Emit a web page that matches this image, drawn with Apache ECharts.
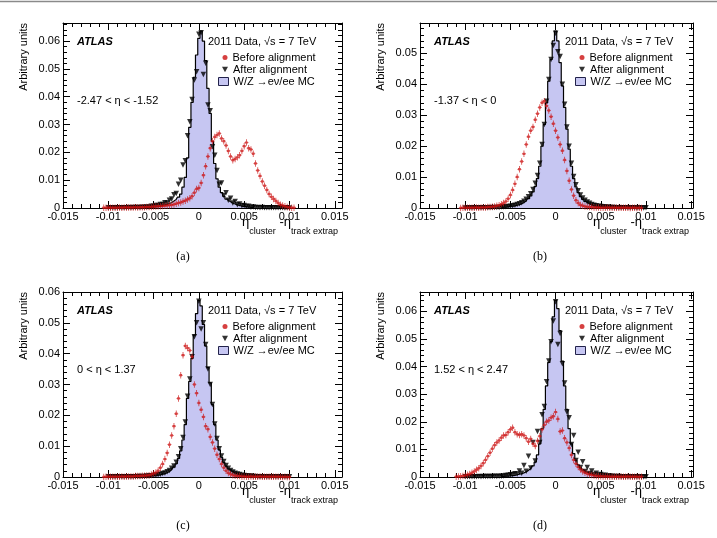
<!DOCTYPE html>
<html>
<head>
<meta charset="utf-8">
<script src="https://cdn.jsdelivr.net/npm/echarts@6/dist/echarts.min.js"></script>
<style>
  html, body { margin: 0; padding: 0; background: #fff; }
  #chart { width: 717px; height: 538px; }
</style>
</head>
<body>
<div id="chart"></div>
<script>
// all histograms share one bin width (eta units)
const binW = 0.00025;
const mcStart = -0.006;     // first bin centre of the MC arrays
const afterStart = -0.01;   // first bin centre of the "after" arrays
const beforeStarts = [-0.0105, -0.0105, -0.0105, -0.011];

const captions = ['(a)', '(b)', '(c)', '(d)'];
const etaRanges = ['-2.47 < η < -1.52', '-1.37 < η < 0', '0 < η < 1.37', '1.52 < η < 2.47'];
const nameBefore = 'Before alignment';
const nameAfter = 'After alignment';
const nameMc = 'W/Z →eν/ee MC';

// (a) -2.47 < eta < -1.52
const aMc = [0.0002,0.0002,0.0003,0.0003,0.0004,0.0005,0.0006,0.0007,0.0009,0.0011,
  0.0013,0.0016,0.0020,0.0025,0.0031,0.0039,0.0050,0.0075,0.0110,0.0180,
  0.0290,0.0380,0.0470,0.0550,0.0610,0.0636,0.0600,0.0530,0.0430,0.0340,
  0.0240,0.0160,0.0105,0.0075,0.0055,0.0042,0.0032,0.0025,0.0020,0.0016,
  0.0013,0.0010,0.0008,0.0006,0.0005,0.0004,0.0003,0.0002,0.0002];
const aAfter = [0.0001,0.0001,0.0001,0.0001,0.0001,0.0001,0.0001,0.0001,0.0001,0.0002,0.0001,0.0002,0.0002,0.0002,0.0002,0.0003,
  0.0003,0.0004,0.0004,0.0006,0.0006,0.0009,0.0009,0.0013,0.0013,0.0019,
  0.0018,0.0028,0.0032,0.0048,0.0052,0.0085,0.0100,0.0155,0.0170,0.0260,
  0.0310,0.0390,0.0460,0.0490,0.0625,0.0630,0.0480,0.0520,0.0370,0.0350,
  0.0220,0.0190,0.0135,0.0085,0.0090,0.0045,0.0055,0.0028,0.0035,0.0018,
  0.0023,0.0012,0.0014,0.0008,0.0009,0.0005,0.0006,0.0003,0.0004,
  0.0002,0.0002,0.0001,0.0002,0.0001,0.0001,0.0001,0.0001,0.0001,0.0001,0.0001,0.0001,0.0001,0.0000,0.0001,0.0000];
const aBefore = [0.0001,0.0001,0.0001,0.0001,0.0001,0.0001,0.0001,0.0002,0.0001,0.0002,
  0.0002,0.0002,0.0002,0.0002,0.0003,0.0002,0.0003,0.0003,0.0003,0.0004,
  0.0004,0.0004,0.0005,0.0005,0.0006,0.0006,0.0007,0.0008,0.0009,0.0010,
  0.0011,0.0013,0.0015,0.0018,0.0020,0.0023,0.0026,0.0031,0.0035,0.0042,
  0.0055,0.0068,0.0072,0.0090,0.0118,0.0150,0.0185,0.0215,0.0240,0.0255,
  0.0262,0.0268,0.0250,0.0240,0.0225,0.0205,0.0185,0.0172,0.0176,0.0182,
  0.0190,0.0205,0.0222,0.0235,0.0215,0.0210,0.0195,0.0160,0.0135,0.0115,
  0.0095,0.0080,0.0065,0.0050,0.0040,0.0032,0.0025,0.0018,0.0012,0.0009,
  0.0006,0.0004,0.0002,0.0001,0.0001];

// (b) -1.37 < eta < 0
const bMc = [0.0002,0.0003,0.0003,0.0004,0.0005,0.0006,0.0007,0.0009,0.0011,0.0014,
  0.0018,0.0023,0.0030,0.0039,0.0052,0.0070,0.0095,0.0135,0.0200,0.0270,
  0.0340,0.0410,0.0480,0.0540,0.0572,0.0540,0.0470,0.0395,0.0325,0.0255,
  0.0190,0.0135,0.0095,0.0068,0.0050,0.0037,0.0028,0.0021,0.0016,0.0012,
  0.0009,0.0007,0.0006,0.0005,0.0004,0.0003,0.0003,0.0002,0.0002];
const bAfter = [0.0000,0.0001,0.0000,0.0001,0.0001,0.0001,0.0001,0.0001,0.0001,0.0001,0.0001,0.0002,0.0001,0.0002,0.0002,0.0002,
  0.0003,0.0003,0.0004,0.0005,0.0006,0.0007,0.0009,0.0011,0.0014,0.0017,
  0.0022,0.0028,0.0036,0.0046,0.0060,0.0080,0.0105,0.0145,0.0205,0.0270,
  0.0345,0.0415,0.0480,0.0525,0.0565,0.0505,0.0490,0.0400,0.0335,0.0262,
  0.0200,0.0145,0.0102,0.0075,0.0056,0.0042,0.0032,0.0025,0.0019,0.0015,
  0.0011,0.0009,0.0007,0.0006,0.0005,0.0004,0.0003,0.0003,0.0002,
  0.0002,0.0002,0.0001,0.0001,0.0001,0.0001,0.0001,0.0001,0.0001,0.0001,0.0001,0.0000,0.0001,0.0001,0.0000,0.0001];
const bBefore = [0.0000,0.0001,0.0001,0.0001,0.0001,0.0001,0.0001,0.0002,0.0001,0.0002,
  0.0002,0.0002,0.0003,0.0003,0.0004,0.0005,0.0007,0.0009,0.0012,0.0016,
  0.0021,0.0030,0.0042,0.0058,0.0078,0.0100,0.0125,0.0150,0.0175,0.0205,
  0.0230,0.0250,0.0262,0.0285,0.0305,0.0325,0.0340,0.0345,0.0330,0.0315,
  0.0295,0.0272,0.0250,0.0228,0.0205,0.0185,0.0155,0.0120,0.0088,0.0060,
  0.0040,0.0025,0.0016,0.0010,0.0007,0.0005,0.0004,0.0003,0.0003,0.0002,
  0.0002,0.0002,0.0001,0.0001,0.0001,0.0002,0.0001,0.0001,0.0001,0.0001,
  0.0001,0.0001,0.0001,0.0001,0.0001,0.0000,0.0001,0.0001,0.0000,0.0001,
  0.0000];

// (c) 0 < eta < 1.37
const cMc = [0.0002,0.0002,0.0003,0.0003,0.0004,0.0005,0.0006,0.0007,0.0009,0.0011,
  0.0014,0.0018,0.0024,0.0032,0.0043,0.0060,0.0085,0.0120,0.0170,0.0255,
  0.0310,0.0385,0.0460,0.0530,0.0573,0.0555,0.0495,0.0425,0.0355,0.0305,
  0.0235,0.0170,0.0120,0.0088,0.0064,0.0047,0.0035,0.0026,0.0020,0.0015,
  0.0012,0.0009,0.0007,0.0006,0.0005,0.0004,0.0003,0.0002,0.0002];
const cAfter = [0.0001,0.0001,0.0001,0.0001,0.0001,0.0001,0.0001,0.0001,0.0001,0.0001,0.0001,0.0001,0.0001,0.0002,0.0002,0.0002,
  0.0002,0.0003,0.0003,0.0004,0.0005,0.0006,0.0007,0.0009,0.0011,0.0013,
  0.0017,0.0021,0.0028,0.0036,0.0048,0.0066,0.0092,0.0128,0.0178,0.0262,
  0.0318,0.0390,0.0455,0.0500,0.0570,0.0480,0.0500,0.0430,0.0350,0.0300,
  0.0235,0.0172,0.0125,0.0092,0.0068,0.0050,0.0037,0.0028,0.0021,0.0016,
  0.0012,0.0010,0.0008,0.0006,0.0005,0.0004,0.0003,0.0003,0.0002,
  0.0002,0.0001,0.0001,0.0001,0.0001,0.0001,0.0001,0.0001,0.0001,0.0001,0.0001,0.0001,0.0001,0.0001,0.0001,0.0001];
const cBefore = [0.0000,0.0001,0.0001,0.0001,0.0001,0.0001,0.0001,0.0001,0.0002,0.0001,
  0.0002,0.0002,0.0002,0.0002,0.0003,0.0003,0.0003,0.0004,0.0004,0.0005,
  0.0006,0.0008,0.0011,0.0015,0.0020,0.0030,0.0042,0.0058,0.0078,0.0105,
  0.0135,0.0165,0.0205,0.0255,0.0330,0.0395,0.0425,0.0418,0.0410,0.0390,
  0.0300,0.0272,0.0240,0.0218,0.0195,0.0165,0.0155,0.0130,0.0112,0.0092,
  0.0072,0.0058,0.0042,0.0030,0.0020,0.0013,0.0009,0.0006,0.0004,0.0003,
  0.0003,0.0002,0.0002,0.0001,0.0001,0.0002,0.0001,0.0001,0.0001,0.0002,
  0.0001,0.0001,0.0001,0.0001,0.0001,0.0001,0.0001,0.0001,0.0001,0.0000,
  0.0001,0.0000,0.0000];

// (d) 1.52 < eta < 2.47
const dMc = [0.0002,0.0002,0.0003,0.0003,0.0004,0.0005,0.0006,0.0008,0.0010,0.0012,
  0.0015,0.0019,0.0024,0.0031,0.0040,0.0054,0.0080,0.0120,0.0175,0.0245,
  0.0330,0.0415,0.0490,0.0580,0.0640,0.0610,0.0530,0.0420,0.0330,0.0245,
  0.0175,0.0120,0.0085,0.0060,0.0044,0.0033,0.0025,0.0019,0.0015,0.0012,
  0.0009,0.0007,0.0006,0.0005,0.0004,0.0003,0.0003,0.0002,0.0002];
const dAfter = [0.0001,0.0001,0.0001,0.0001,0.0001,0.0001,0.0002,0.0001,0.0002,0.0002,0.0002,0.0002,0.0002,0.0003,0.0002,0.0003,
  0.0003,0.0004,0.0005,0.0006,0.0008,0.0009,0.0012,0.0011,0.0022,0.0014,
  0.0042,0.0021,0.0075,0.0033,0.0125,0.0058,0.0165,0.0125,0.0225,0.0255,
  0.0345,0.0420,0.0490,0.0565,0.0635,0.0480,0.0520,0.0410,0.0340,0.0235,
  0.0215,0.0118,0.0150,0.0060,0.0090,0.0034,0.0055,0.0020,0.0034,0.0013,
  0.0022,0.0009,0.0014,0.0007,0.0009,0.0005,0.0006,0.0004,0.0004,
  0.0003,0.0002,0.0002,0.0002,0.0001,0.0001,0.0001,0.0001,0.0001,0.0001,0.0001,0.0001,0.0001,0.0001,0.0000,0.0001];
const dBefore = [0.0001,0.0002,0.0003,0.0004,0.0005,0.0008,0.0011,0.0015,0.0020,0.0026,
  0.0032,0.0040,0.0050,0.0062,0.0075,0.0088,0.0102,0.0115,0.0125,0.0132,
  0.0142,0.0150,0.0152,0.0162,0.0172,0.0178,0.0162,0.0155,0.0152,0.0155,
  0.0150,0.0140,0.0128,0.0138,0.0120,0.0112,0.0130,0.0148,0.0172,0.0188,
  0.0200,0.0205,0.0215,0.0220,0.0235,0.0210,0.0165,0.0168,0.0140,0.0125,
  0.0105,0.0080,0.0062,0.0048,0.0036,0.0027,0.0020,0.0015,0.0012,0.0009,
  0.0007,0.0005,0.0004,0.0003,0.0003,0.0002,0.0002,0.0002,0.0001,0.0001,
  0.0001,0.0001,0.0001,0.0001,0.0001,0.0001,0.0002,0.0001,0.0001,0.0001,
  0.0001,0.0000,0.0001];

const mcData = [aMc, bMc, cMc, dMc];
const afterData = [aAfter, bAfter, cAfter, dAfter];
const beforeData = [aBefore, bBefore, cBefore, dBefore];

// layout of the four frames
const panels = [
  { left: 63, top: 23, width: 279, xMax: 0.0158, yMax: 0.0665, topLabel: false },
  { left: 420, top: 23, width: 273, xMax: 0.0152, yMax: 0.0598, topLabel: false },
  { left: 63, top: 292, width: 279, xMax: 0.0158, yMax: 0.06, topLabel: true },
  { left: 420, top: 292, width: 273, xMax: 0.0152, yMax: 0.067, topLabel: false }
];
const plotH = 185;

const font = 'Liberation Sans, Arial, Helvetica, sans-serif';
const serif = 'Liberation Serif, DejaVu Serif, serif';
const red = '#cc1010';
const mcFill = '#c6c6f2';
// red marker: dot with small error bars
const plusPath = 'path://M1.6,0H2.4V7H1.6Z M0,3.1H4V3.9H0Z M0.4,3.5A1.6,1.6 0 1 1 3.6,3.5A1.6,1.6 0 1 1 0.4,3.5Z';
const triDown = 'path://M0,0L10,0L5,9Z';

function toXY(start, vals) {
  return vals.map((v, i) => [start + i * binW, v]);
}

var chartDom = document.getElementById('chart');
var myChart = echarts.init(chartDom);

const grid = [], xAxis = [], yAxis = [], series = [], legend = [], title = [], graphic = [];

graphic.push({
  type: 'line', shape: { x1: 0, y1: 1.5, x2: 717, y2: 1.5 },
  style: { stroke: '#8a8a8a', lineWidth: 1.5 }, silent: true
});

panels.forEach((p, i) => {
  grid.push({ left: p.left, top: p.top, width: p.width, height: plotH, containLabel: false, outerBoundsMode: 'none' });

  // major + minor axes on every side of the frame
  ['bottom', 'top'].forEach(pos => {
    xAxis.push({
      type: 'value', gridIndex: i, position: pos, min: -0.015, max: p.xMax, interval: 0.005,
      axisLine: { show: true, onZero: false, lineStyle: { color: '#000', width: 1 } },
      axisTick: { show: true, inside: true, length: 7, lineStyle: { color: '#000' } },
      axisLabel: { show: pos === 'bottom', color: '#000', fontSize: 11, fontFamily: font, margin: 3, showMaxLabel: false },
      splitLine: { show: false }
    });
    xAxis.push({
      type: 'value', gridIndex: i, position: pos, min: -0.015, max: p.xMax, interval: 0.001,
      axisLine: { show: false, onZero: false },
      axisTick: { show: true, inside: true, length: 4, lineStyle: { color: '#000' } },
      axisLabel: { show: false },
      splitLine: { show: false }
    });
  });
  ['left', 'right'].forEach(pos => {
    yAxis.push({
      type: 'value', gridIndex: i, position: pos, min: 0, max: p.yMax, interval: 0.01,
      axisLine: { show: true, onZero: false, lineStyle: { color: '#000', width: 1 } },
      axisTick: { show: true, inside: true, length: 7, lineStyle: { color: '#000' } },
      axisLabel: { show: pos === 'left', color: '#000', fontSize: 11, fontFamily: font, margin: 3, showMaxLabel: p.topLabel },
      splitLine: { show: false }
    });
    yAxis.push({
      type: 'value', gridIndex: i, position: pos, min: 0, max: p.yMax, interval: 0.002,
      axisLine: { show: false, onZero: false },
      axisTick: { show: true, inside: true, length: 4, lineStyle: { color: '#000' } },
      axisLabel: { show: false },
      splitLine: { show: false }
    });
  });

  const xi = 4 * i, yi = 4 * i;
  series.push({
    type: 'line', name: nameMc, xAxisIndex: xi, yAxisIndex: yi,
    data: toXY(mcStart, mcData[i]), step: 'middle', symbol: 'none',
    lineStyle: { color: '#000', width: 1.2 },
    itemStyle: { color: mcFill },
    areaStyle: { color: mcFill, opacity: 1 },
    silent: true, z: 1
  });
  series.push({
    type: 'scatter', name: nameAfter, xAxisIndex: xi, yAxisIndex: yi,
    data: toXY(afterStart, afterData[i]), symbol: 'triangle', symbolRotate: 180, symbolSize: 5.5,
    itemStyle: { color: '#000' }, silent: true, z: 2
  });
  series.push({
    type: 'scatter', name: nameBefore, xAxisIndex: xi, yAxisIndex: yi,
    data: toXY(beforeStarts[i], beforeData[i]), symbol: plusPath, symbolSize: [4, 6.5],
    itemStyle: { color: red }, silent: true, z: 3
  });

  // legend, one block per item so each icon has its own size
  const lx = p.left + 162;
  const items = [
    { name: nameBefore, icon: 'circle', w: 5, h: 5, dx: -2.5, style: {} },
    { name: nameAfter, icon: triDown, w: 6, h: 6, dx: -3, style: {} },
    { name: nameMc, icon: 'rect', w: 10, h: 8, dx: -7, style: { color: mcFill, borderColor: '#22224a', borderWidth: 1 } }
  ];
  items.forEach((it, k) => {
    legend.push({
      left: lx + it.dx, top: p.top + 34.5 + 12 * k - 6, padding: 0, itemGap: 0,
      selectedMode: false, data: [{ name: it.name, icon: it.icon }],
      itemWidth: it.w, itemHeight: it.h, itemStyle: it.style,
      textStyle: { fontSize: 11, fontFamily: font, color: '#000', lineHeight: 12 }
    });
  });

  title.push({
    text: 'ATLAS', left: p.left + 14, top: p.top + 13, padding: 0,
    textStyle: { fontSize: 11, fontStyle: 'italic', fontWeight: 'bold', fontFamily: font, color: '#000', lineHeight: 12 }
  });
  title.push({
    text: '2011 Data, √s = 7 TeV', left: p.left + 145, top: p.top + 13, padding: 0,
    textStyle: { fontSize: 11, fontWeight: 'normal', fontFamily: font, color: '#000', lineHeight: 12 }
  });
  title.push({
    text: etaRanges[i], left: p.left + 14, top: p.top + 71.5, padding: 0,
    textStyle: { fontSize: 11, fontWeight: 'normal', fontFamily: font, color: '#000', lineHeight: 12 }
  });
  title.push({
    text: '{e|η}{s|cluster}{e| -η}{s|track extrap}',
    left: p.left + p.width - 4, top: p.top + 193, padding: 0, textAlign: 'right',
    textStyle: {
      fontWeight: 'normal',
      rich: {
        e: { fontSize: 13, fontWeight: 'normal', fontFamily: font, color: '#000', lineHeight: 14, verticalAlign: 'top' },
        s: { fontSize: 9, fontWeight: 'normal', fontFamily: font, color: '#000', lineHeight: 10, padding: [11, 0, 0, 0], verticalAlign: 'top' }
      }
    }
  });
  title.push({
    text: captions[i], left: p.left + 120, top: p.top + 228, padding: 0, textAlign: 'center',
    textStyle: { fontSize: 12, fontWeight: 'normal', fontFamily: serif, color: '#000', lineHeight: 12 }
  });

  graphic.push({
    type: 'text', x: p.left - 39, y: p.top, rotation: Math.PI / 2, silent: true,
    style: { text: 'Arbitrary units', fontSize: 11, fontFamily: font, fill: '#000', align: 'right', verticalAlign: 'middle' }
  });
});

var option = {
  animation: false,
  backgroundColor: '#fff',
  grid: grid,
  xAxis: xAxis,
  yAxis: yAxis,
  legend: legend,
  title: title,
  graphic: graphic,
  series: series
};
option && myChart.setOption(option);
</script>
</body>
</html>
